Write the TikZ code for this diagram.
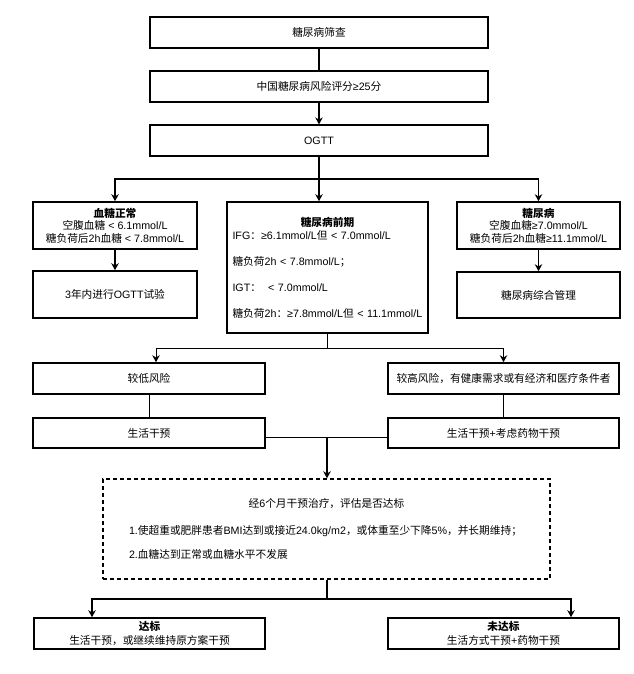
\documentclass[tikz,border=0pt]{standalone}
\usepackage{fontspec}
\setmainfont{Liberation Sans}
\newfontfamily\cjkfont{Noto Sans CJK SC}
\XeTeXinterchartokenstate=1
\newXeTeXintercharclass\CJKcls
\newcount\cjkc
\def\setcjkrange#1#2{\cjkc=#1\relax
  \loop \XeTeXcharclass\cjkc=\CJKcls \ifnum\cjkc<#2\relax \advance\cjkc by 1 \repeat}
\setcjkrange{"4E00}{"9FFF}
\setcjkrange{"3000}{"303F}
\setcjkrange{"FF00}{"FFEF}
\XeTeXinterchartoks 0 \CJKcls = {\cjkfont}
\XeTeXinterchartoks 4095 \CJKcls = {\cjkfont}
\XeTeXinterchartoks \CJKcls 0 = {\rmfamily}
\XeTeXinterchartoks \CJKcls 4095 = {\rmfamily}
\usetikzlibrary{arrows.meta}
\begin{document}
\begin{tikzpicture}[x=1pt,y=-1pt,
  box/.style={draw, line width=1.6pt, inner sep=0pt, align=center,
    font=\fontsize{10.7}{12.5}\selectfont},
  topbox/.style={box, line width=1.2pt, minimum width=338pt, minimum height=31pt},
  thk/.style={line width=1.8pt},
  thn/.style={line width=1pt},
  arr/.style={-{Stealth[length=7pt,width=7.5pt]}}
]
\useasboundingbox (0,0) rectangle (633,674);

% top column
\node[topbox] (screen) at (319,32.5) {糖尿病筛查};
\node[topbox] (score) at (319,86.5) {中国糖尿病风险评分≥25分};
\node[topbox] (ogtt) at (319,140.5) {OGTT};

% three categories
\node[box, minimum width=164pt, minimum height=47pt] (normal) at (115,225.5)
  {\textbf{血糖正常}\\空腹血糖 < 6.1mmol/L\\糖负荷后2h血糖 < 7.8mmol/L};
\node[box, minimum width=201pt, minimum height=131pt, text width=190pt, align=left,
  font=\fontsize{10.7}{13}\selectfont] (pre) at (327.5,267.5)
  {\makebox[190pt][c]{\textbf{糖尿病前期}}\\
   IFG：≥6.1mmol/L但 < 7.0mmol/L\\[13pt]
   糖负荷2h < 7.8mmol/L；\\[13pt]
   IGT：\ \ < 7.0mmol/L\\[13pt]
   糖负荷2h：≥7.8mmol/L但 < 11.1mmol/L};
\node[box, minimum width=163pt, minimum height=47pt] (dm) at (538.5,225.5)
  {\textbf{糖尿病}\\空腹血糖≥7.0mmol/L\\糖负荷后2h血糖≥11.1mmol/L};

\node[box, minimum width=164pt, minimum height=47pt] (ogtt3) at (115,294.5) {3年内进行OGTT试验};
\node[box, minimum width=163pt, minimum height=46pt] (manage) at (538.5,295) {糖尿病综合管理};

% risk rows
\node[box, minimum width=232pt, minimum height=31pt] (low) at (149,378.5) {较低风险};
\node[box, minimum width=231pt, minimum height=31pt] (high) at (503.5,378.5) {较高风险，有健康需求或有经济和医疗条件者};
\node[box, minimum width=232pt, minimum height=30pt] (life) at (149,433) {生活干预};
\node[box, minimum width=231pt, minimum height=30pt] (lifedrug) at (503.5,433) {生活干预+考虑药物干预};

% evaluation
\node[box, line width=1.4pt, dash pattern=on 4pt off 3pt, minimum width=447pt, minimum height=100pt,
  text width=395pt, align=left, font=\fontsize{10.7}{13}\selectfont] (eval) at (326.5,529)
  {\makebox[395pt][c]{经6个月干预治疗，评估是否达标}\\[14pt]
   1.使超重或肥胖患者BMI达到或接近24.0kg/m2，或体重至少下降5\%，并长期维持；\\[11pt]
   2.血糖达到正常或血糖水平不发展};

% outcomes
\node[box, minimum width=231pt, minimum height=31pt, font=\fontsize{10.7}{13.5}\selectfont] (ok) at (149.5,633.5)
  {\textbf{达标}\\生活干预，或继续维持原方案干预};
\node[box, minimum width=231pt, minimum height=31pt, font=\fontsize{10.7}{13.5}\selectfont] (notok) at (503.5,633.5)
  {\textbf{未达标}\\生活方式干预+药物干预};

% connectors: top
\draw[thk] (screen) -- (score);
\draw[thk,arr] (score) -- (ogtt);
\coordinate (b1) at (319,179);
\draw[thk] (ogtt.south) -- (b1);
\draw[thk,arr] (b1) -| (normal.north);
\draw[thk,arr] (b1) -| (dm.north);
\draw[thk,arr] (b1) -- (b1 |- pre.north);
\draw[thk,arr] (normal) -- (ogtt3);
\draw[thk,arr] (dm) -- (manage);

% connectors: middle
\coordinate (b2) at (327,348);
\coordinate (lowin) at (156,0);
\draw[thn] (pre.south -| b2) -- (b2);
\draw[thn,arr] (b2) -| (lowin |- low.north);
\draw[thn,arr] (b2) -| (high.north);
\draw[thn] (low) -- (life);
\draw[thn] (high) -- (lifedrug);
\coordinate (mj) at (327,437);
\draw[thn] (life.east |- mj) -- (lifedrug.west |- mj);
\draw[thk,arr] (mj) -- (mj |- eval.north);

% connectors: bottom
\coordinate (b3) at (327,599);
\coordinate (okin) at (92,0);
\coordinate (notokin) at (571,0);
\draw[thk] (eval.south -| b3) -- (b3);
\draw[thk,arr] (b3) -| (okin |- ok.north);
\draw[thk,arr] (b3) -| (notokin |- notok.north);
\end{tikzpicture}
\end{document}
